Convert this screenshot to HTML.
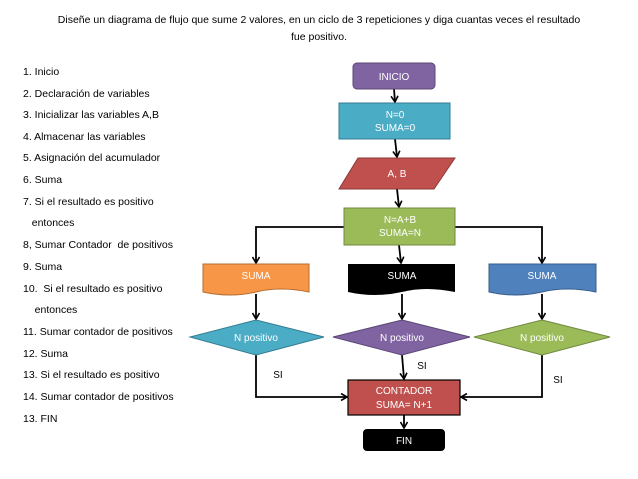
<!DOCTYPE html>
<html><head><meta charset="utf-8"><style>
body{margin:0;width:638px;height:479px;background:#fff;overflow:hidden;font-family:"Liberation Sans",sans-serif}
.t{position:absolute;left:0;width:638px;text-align:center;font-size:10.5px;color:#000;line-height:17px;top:12px}
.l{position:absolute;left:23px;font-size:10.5px;color:#000}
</style></head><body>
<div class="t">Diseñe un diagrama de flujo que sume 2 valores, en un ciclo de 3 repeticiones y diga cuantas veces el resultado<br>fue positivo.</div>
<div class="l" style="top:66px">1. Inicio</div>
<div class="l" style="top:88px">2. Declaración de variables</div>
<div class="l" style="top:109px">3. Inicializar las variables A,B</div>
<div class="l" style="top:131px">4. Almacenar las variables</div>
<div class="l" style="top:152px">5. Asignación del acumulador</div>
<div class="l" style="top:174px">6. Suma</div>
<div class="l" style="top:196px">7. Si el resultado es positivo</div>
<div class="l" style="top:217px">&nbsp;&nbsp;&nbsp;entonces</div>
<div class="l" style="top:239px">8, Sumar Contador&nbsp; de positivos</div>
<div class="l" style="top:261px">9. Suma</div>
<div class="l" style="top:283px">10.&nbsp; Si el resultado es positivo</div>
<div class="l" style="top:304px">&nbsp;&nbsp;&nbsp;&nbsp;entonces</div>
<div class="l" style="top:326px">11. Sumar contador de positivos</div>
<div class="l" style="top:348px">12. Suma</div>
<div class="l" style="top:369px">13. Si el resultado es positivo</div>
<div class="l" style="top:391px">14. Sumar contador de positivos</div>
<div class="l" style="top:413px">13. FIN</div>
<svg width="638" height="479" style="position:absolute;left:0;top:0" font-family="Liberation Sans, sans-serif" font-size="10">
<defs><marker id="a" markerWidth="8" markerHeight="8" refX="7" refY="4" orient="auto" markerUnits="userSpaceOnUse"><path d="M1,0.5 L7,4 L1,7.5" fill="none" stroke="#000" stroke-width="1.6"/></marker></defs>
<g stroke="#000" stroke-width="1.8" fill="none">
<line x1="394" y1="89" x2="395" y2="102" marker-end="url(#a)"/>
<line x1="395" y1="139" x2="397" y2="157" marker-end="url(#a)"/>
<line x1="397" y1="189" x2="399" y2="207" marker-end="url(#a)"/>
<line x1="399" y1="245" x2="401" y2="263" marker-end="url(#a)"/>
<polyline points="344,227 256,227 256,263" marker-end="url(#a)"/>
<polyline points="455,227 542,227 542,263" marker-end="url(#a)"/>
<line x1="256" y1="294" x2="256" y2="319" marker-end="url(#a)"/>
<line x1="402" y1="294" x2="402" y2="319" marker-end="url(#a)"/>
<line x1="542" y1="294" x2="542" y2="319" marker-end="url(#a)"/>
<line x1="402" y1="355" x2="404" y2="379" marker-end="url(#a)"/>
<polyline points="256,355 256,397 347,397" marker-end="url(#a)"/>
<polyline points="542,355 542,397 461,397" marker-end="url(#a)"/>
<line x1="404" y1="415" x2="404" y2="428" marker-end="url(#a)"/>
</g>
<rect x="353" y="63" width="82" height="26" rx="4" fill="#8064a2" stroke="#5c4776"/>
<text x="394" y="80" fill="#fff" text-anchor="middle">INICIO</text>
<rect x="339" y="103" width="111" height="36" fill="#4bacc6" stroke="#357d91"/>
<text x="395" y="118" fill="#fff" text-anchor="middle">N=0</text>
<text x="395" y="131" fill="#fff" text-anchor="middle">SUMA=0</text>
<polygon points="358,158 455,158 434,189 339,189" fill="#c0504d" stroke="#8c3836"/>
<text x="397" y="177" fill="#fff" text-anchor="middle">A, B</text>
<rect x="344" y="208" width="111" height="37" fill="#9bbb59" stroke="#71893f"/>
<text x="400" y="223" fill="#fff" text-anchor="middle">N=A+B</text>
<text x="400" y="236" fill="#fff" text-anchor="middle">SUMA=N</text>
<path d="M203,264 H309 V292 Q280,286 256,292 Q230,298 203,292 Z" fill="#f79646" stroke="#b66d31"/>
<text x="256" y="279" fill="#fff" text-anchor="middle">SUMA</text>
<path d="M348,264 H455 V292 Q425,286 402,292 Q375,298 348,292 Z" fill="#000"/>
<text x="402" y="279" fill="#fff" text-anchor="middle">SUMA</text>
<path d="M489,264 H596 V292 Q566,286 542,292 Q515,298 489,292 Z" fill="#4f81bd" stroke="#385d8a"/>
<text x="542" y="279" fill="#fff" text-anchor="middle">SUMA</text>
<polygon points="256,320 324,337 256,355 190,337" fill="#4bacc6" stroke="#357d91"/>
<text x="256" y="341" fill="#fff" text-anchor="middle">N positivo</text>
<polygon points="402,320 470,337 402,355 333,337" fill="#8064a2" stroke="#5c4776"/>
<text x="402" y="341" fill="#fff" text-anchor="middle">N positivo</text>
<polygon points="542,320 610,337 542,355 474,337" fill="#9bbb59" stroke="#71893f"/>
<text x="542" y="341" fill="#fff" text-anchor="middle">N positivo</text>
<text x="278" y="378" text-anchor="middle">SI</text>
<text x="422" y="369" text-anchor="middle">SI</text>
<text x="558" y="383" text-anchor="middle">SI</text>
<rect x="348" y="380" width="112" height="35" fill="#c0504d" stroke="#000" stroke-width="1.2"/>
<text x="404" y="394" fill="#fff" text-anchor="middle">CONTADOR</text>
<text x="404" y="408" fill="#fff" text-anchor="middle">SUMA= N+1</text>
<rect x="363" y="429" width="82" height="22" rx="4" fill="#000"/>
<text x="404" y="444" fill="#fff" text-anchor="middle">FIN</text>
</svg>
</body></html>
